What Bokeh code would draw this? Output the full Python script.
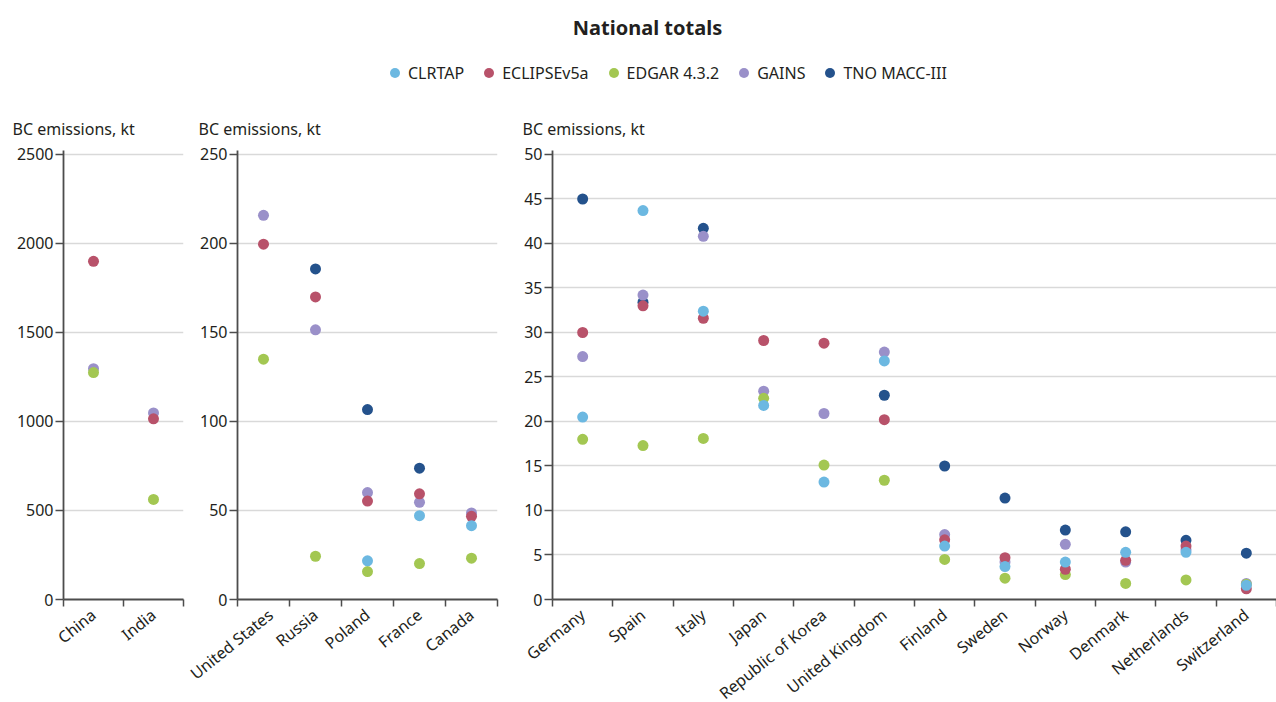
from bokeh.embed import file_html
from bokeh.layouts import column, row
from bokeh.models import (AllLabels, ColumnDataSource, FixedTicker, Label,
                          Legend, LegendItem, Range1d)
from bokeh.plotting import figure
from bokeh.resources import INLINE

nan = float("nan")

FONT = "Noto Sans"
TEXT = "#231f20"
AXIS = "#4d4d4d"
GRID = "#d9d9d9"

series = ["CLRTAP", "ECLIPSEv5a", "EDGAR 4.3.2", "GAINS", "TNO MACC-III"]
colors = ["#6cb8e1", "#b8526a", "#a3c752", "#9a90c9", "#24528c"]

# Largest emitters (kt)
large_countries = ["China", "India"]
large_clrtap = [nan, nan]
large_eclipse = [1900, 1015]
large_edgar = [1275, 562]
large_gains = [1297, 1048]
large_tno = [nan, nan]

# Mid-size emitters (kt)
mid_countries = ["United States", "Russia", "Poland", "France", "Canada"]
mid_clrtap = [nan, nan, 21.7, 47.1, 41.5]
mid_eclipse = [199.6, 170.0, 55.3, 59.4, 46.7]
mid_edgar = [135.0, 24.3, 15.7, 20.2, 23.2]
mid_gains = [215.8, 151.5, 60.1, 54.6, 48.6]
mid_tno = [nan, 185.7, 106.7, 73.8, nan]

# Smaller emitters (kt)
small_countries = ["Germany", "Spain", "Italy", "Japan", "Republic of Korea",
                   "United Kingdom", "Finland", "Sweden", "Norway", "Denmark",
                   "Netherlands", "Switzerland"]
small_clrtap = [20.5, 43.7, 32.4, 21.8, 13.2, 26.8, 6.0, 3.7, 4.2, 5.3, 5.3, 1.6]
small_eclipse = [30.0, 33.0, 31.6, 29.1, 28.8, 20.2, 6.7, 4.7, 3.4, 4.4, 6.0, 1.2]
small_edgar = [18.0, 17.3, 18.1, 22.6, 15.1, 13.4, 4.5, 2.4, 2.8, 1.8, 2.2, 1.7]
small_gains = [27.3, 34.2, 40.8, 23.4, 20.9, 27.8, 7.3, 4.2, 6.2, 4.2, 5.6, 1.8]
small_tno = [45.0, 33.4, 41.7, nan, nan, 22.95, 15.0, 11.4, 7.8, 7.6, 6.65, 5.2]

y_title = "BC emissions, kt"

TOP = 45
FRAME_H = 450
BOTTOM = 115
PANEL_H = TOP + FRAME_H + BOTTOM


def panel(countries, values, y_max, y_step, width, left, right, title_dx):
    n = len(countries)
    top_pad = y_max * 4 / 446
    p = figure(width=width, height=PANEL_H,
               x_range=Range1d(0, n), y_range=Range1d(0, y_max + top_pad),
               output_backend="svg", toolbar_location=None,
               min_border_left=left, min_border_right=right,
               min_border_top=TOP, min_border_bottom=BOTTOM)
    p.outline_line_color = None
    p.background_fill_color = "white"
    p.border_fill_color = "white"

    # y-axis caption shown as a left-aligned title above the axis
    p.title.text = y_title
    p.title.align = "left"
    p.title.offset = -title_dx
    p.title.text_font = FONT
    p.title.text_font_size = "16px"
    p.title.text_font_style = "normal"
    p.title.text_color = TEXT
    p.title.standoff = 21

    centers = [i + 0.5 for i in range(n)]
    yticks = list(range(0, y_max + 1, y_step))

    xa = p.xaxis[0]
    xa.ticker = FixedTicker(ticks=centers, minor_ticks=list(range(n + 1)))
    xa.major_label_overrides = {c: name for c, name in zip(centers, countries)}
    xa.major_label_orientation = 0.68
    xa.major_label_policy = AllLabels()
    xa.major_tick_out = 0
    xa.major_tick_in = 0
    xa.minor_tick_out = 7
    xa.minor_tick_in = 0
    xa.minor_tick_line_color = AXIS
    xa.minor_tick_line_width = 1.5
    xa.axis_line_color = AXIS
    xa.axis_line_width = 1.8
    xa.major_label_text_font = FONT
    xa.major_label_text_font_size = "16px"
    xa.major_label_text_color = TEXT
    xa.major_label_standoff = 6

    ya = p.yaxis[0]
    ya.ticker = FixedTicker(ticks=yticks, minor_ticks=[])
    ya.major_tick_out = 8
    ya.major_tick_in = 0
    ya.major_tick_line_color = AXIS
    ya.major_tick_line_width = 1.5
    ya.axis_line_color = AXIS
    ya.axis_line_width = 1.8
    ya.major_label_text_font = FONT
    ya.major_label_text_font_size = "16px"
    ya.major_label_text_color = TEXT
    ya.major_label_standoff = 2

    p.xgrid.visible = False
    p.ygrid.ticker = FixedTicker(ticks=yticks[1:], minor_ticks=[])
    p.ygrid.grid_line_color = GRID
    p.ygrid.grid_line_width = 1.5

    # later series sit underneath earlier ones
    for name, color, vals in reversed(list(zip(series, colors, values))):
        src = ColumnDataSource(dict(x=centers, y=vals))
        p.scatter("x", "y", source=src, size=11, fill_color=color,
                  line_color=None, marker="circle")
    return p


p1 = panel(large_countries,
           [large_clrtap, large_eclipse, large_edgar, large_gains, large_tno],
           2500, 500, width=185, left=63, right=2, title_dx=51)
p2 = panel(mid_countries,
           [mid_clrtap, mid_eclipse, mid_edgar, mid_gains, mid_tno],
           250, 50, width=315, left=52, right=3, title_dx=39)
p3 = panel(small_countries,
           [small_clrtap, small_eclipse, small_edgar, small_gains, small_tno],
           50, 5, width=776, left=52, right=0, title_dx=30)

# Header: chart title and shared legend
head = figure(width=1276, height=105, x_range=Range1d(0, 1276),
              y_range=Range1d(105, 0), x_axis_type=None, y_axis_type=None,
              output_backend="svg", toolbar_location=None,
              min_border=0)
head.outline_line_color = None
head.xgrid.visible = False
head.ygrid.visible = False
head.add_layout(Label(x=647, y=27, text="National totals",
                      text_font=FONT, text_font_size="20px",
                      text_font_style="bold", text_color=TEXT,
                      text_align="center", text_baseline="middle"))

# legend proxies: one off-canvas point each, so only the key swatch shows
items = []
for name, color in zip(series, colors):
    r = head.scatter(x=[-500], y=[-500], size=10, fill_color=color,
                     line_color=None, marker="circle")
    items.append(LegendItem(label=name, renderers=[r]))
legend = Legend(items=items, orientation="horizontal", location=(382, 20),
                glyph_width=25, glyph_height=25, label_standoff=1,
                spacing=12, padding=0, margin=0,
                label_text_font=FONT, label_text_font_size="16px",
                label_text_color=TEXT, background_fill_alpha=0,
                border_line_color=None)
head.add_layout(legend, "center")

layout = column(head, row(p1, p2, p3, spacing=0), spacing=0)

html = file_html(layout, INLINE)
# the rotated country names run past the bottom edge; keep the page from scrolling
html = html.replace("<body>", '<body style="margin:0;overflow:hidden">', 1)
with open("out.html", "w") as f:
    f.write(html)
